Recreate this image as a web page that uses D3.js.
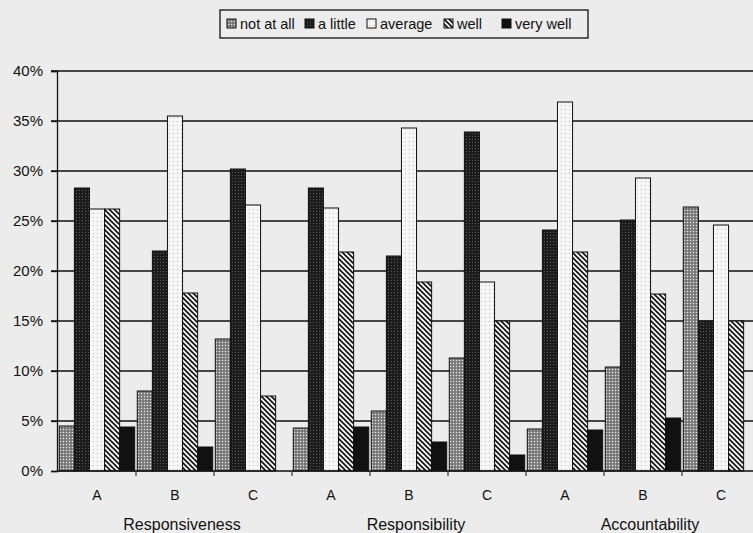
<!DOCTYPE html>
<html>
<head>
<meta charset="utf-8">
<script src="https://cdn.jsdelivr.net/npm/d3@7"></script>
<style>
  html, body { margin: 0; padding: 0; background: #ececec; }
  svg { display: block; font-family: "Liberation Sans", Arial, sans-serif; }
</style>
</head>
<body>
<svg id="chart" width="753" height="533"></svg>
<script>
// ---- data ----
const categories = ["Responsiveness", "Responsibility", "Accountability"];
const subgroups = ["A", "B", "C"];
const seriesNames = ["not at all", "a little", "average", "well", "very well"];
const notAtAll = [4.5, 8.0, 13.2, 4.3, 6.0, 11.3, 4.2, 10.4, 26.4];
const aLittle  = [28.3, 22.0, 30.2, 28.3, 21.5, 33.9, 24.1, 25.1, 15.0];
const average  = [26.2, 35.5, 26.6, 26.3, 34.3, 18.9, 36.9, 29.3, 24.6];
const well     = [26.2, 17.8, 7.5, 21.9, 18.9, 15.0, 21.9, 17.7, 15.0];
const veryWell = [4.4, 2.4, 0, 4.4, 2.9, 1.6, 4.1, 5.3, 0];
const yTicks = [0, 5, 10, 15, 20, 25, 30, 35, 40];

(function () {
const seriesValues = [notAtAll, aLittle, average, well, veryWell];
const groups = [];
categories.forEach(c => subgroups.forEach(s => groups.push(c + "|" + s)));

// ---- layout ----
const svg = d3.select("#chart");
const plotLeft = 57, plotTop = 71, plotBottom = 471, band = 78;
const plotRight = plotLeft + band * groups.length;

const x = d3.scaleBand().domain(groups).range([plotLeft + 1, plotRight + 1]).paddingInner(0).paddingOuter(0);
const inner = d3.scaleBand().domain(seriesNames).range([0, band]).paddingInner(0).paddingOuter(0.085);
const y = d3.scaleLinear().domain([0, 40]).range([plotBottom, plotTop]);

// ---- patterns ----
const defs = svg.append("defs");
const pNot = defs.append("pattern").attr("id", "p0").attr("patternUnits", "userSpaceOnUse").attr("width", 3).attr("height", 3);
pNot.append("rect").attr("width", 3).attr("height", 3).attr("fill", "#8c8c8c");
pNot.append("rect").attr("x", 0).attr("y", 0).attr("width", 1).attr("height", 1).attr("fill", "#e6e6e6");
pNot.append("rect").attr("x", 1.5).attr("y", 1.5).attr("width", 1).attr("height", 1).attr("fill", "#3a3a3a");

const pLit = defs.append("pattern").attr("id", "p1").attr("patternUnits", "userSpaceOnUse").attr("width", 3).attr("height", 3);
pLit.append("rect").attr("width", 3).attr("height", 3).attr("fill", "#1c1c1c");
pLit.append("rect").attr("x", 1).attr("y", 1).attr("width", 1).attr("height", 1).attr("fill", "#5a5a5a");

const pAvg = defs.append("pattern").attr("id", "p2").attr("patternUnits", "userSpaceOnUse").attr("width", 4).attr("height", 4);
pAvg.append("rect").attr("width", 4).attr("height", 4).attr("fill", "#f7f7f7");
pAvg.append("rect").attr("x", 1).attr("y", 1).attr("width", 1).attr("height", 1).attr("fill", "#b8b8b8");

const pWell = defs.append("pattern").attr("id", "p3").attr("patternUnits", "userSpaceOnUse").attr("width", 5).attr("height", 5);
pWell.append("rect").attr("width", 5).attr("height", 5).attr("fill", "#f4f4f4");
pWell.append("path").attr("d", "M-1,-1 L6,6 M-1,4 L1,6 M4,-1 L6,1").attr("stroke", "#111").attr("stroke-width", 1.6);

const fills = ["url(#p0)", "url(#p1)", "url(#p2)", "url(#p3)", "#111"];

// ---- gridlines ----
svg.append("g").selectAll("line").data(yTicks.filter(d => d > 0)).join("line")
  .attr("x1", plotLeft - 6).attr("x2", 753)
  .attr("y1", d => y(d)).attr("y2", d => y(d))
  .attr("stroke", "#111").attr("stroke-width", 1.3);

// ---- y axis ----
const yAxis = d3.axisLeft(y).tickValues(yTicks).tickFormat(d => d + "%").tickSize(6).tickPadding(8);
const gy = svg.append("g").attr("transform", `translate(${plotLeft},0)`).call(yAxis);
gy.select(".domain").attr("stroke", "#111").attr("stroke-width", 1.3);
gy.selectAll(".tick line").attr("stroke", "#111").attr("stroke-width", 1.3);
gy.selectAll(".tick text").attr("font-size", 15).attr("fill", "#111")
  .attr("font-family", "Liberation Sans, Arial, sans-serif");

// ---- bars ----
const gBars = svg.append("g");
seriesValues.forEach((vals, si) => {
  gBars.append("g").selectAll("rect").data(vals.map((v, i) => ({ g: groups[i], v })).filter(d => d.v > 0))
    .join("rect")
    .attr("x", d => x(d.g) + inner(seriesNames[si]))
    .attr("width", inner.bandwidth())
    .attr("y", d => y(d.v))
    .attr("height", d => plotBottom - y(d.v))
    .attr("fill", fills[si])
    .attr("stroke", "#111").attr("stroke-width", 1);
});

// ---- x axis ----
svg.append("line").attr("x1", plotLeft).attr("x2", 753).attr("y1", plotBottom).attr("y2", plotBottom)
  .attr("stroke", "#111").attr("stroke-width", 1.3);
svg.append("g").selectAll("line").data(groups.slice(1)).join("line")
  .attr("x1", d => x(d)).attr("x2", d => x(d))
  .attr("y1", plotBottom).attr("y2", plotBottom + 5)
  .attr("stroke", "#111");
svg.append("g").selectAll("text").data(groups).join("text")
  .attr("x", d => x(d) + band / 2).attr("y", 500)
  .attr("text-anchor", "middle").attr("font-size", 14).attr("fill", "#111")
  .text(d => d.split("|")[1]);
svg.append("g").selectAll("text").data(categories).join("text")
  .attr("x", c => x(c + "|B") + band / 2 + 7).attr("y", 530)
  .attr("text-anchor", "middle").attr("font-size", 16).attr("fill", "#111")
  .text(c => c);

// ---- legend ----
const legX = [227, 305, 367, 444, 502];
const lg = svg.append("g");
lg.append("rect").attr("x", 220).attr("y", 10).attr("width", 368).attr("height", 28)
  .attr("fill", "none").attr("stroke", "#111").attr("stroke-width", 1.3);
seriesNames.forEach((s, i) => {
  lg.append("rect").attr("x", legX[i]).attr("y", 19).attr("width", 9).attr("height", 9)
    .attr("fill", fills[i]).attr("stroke", "#111").attr("stroke-width", 1);
  lg.append("text").attr("x", legX[i] + 13).attr("y", 28.5)
    .attr("font-size", 14.5).attr("fill", "#111").text(s);
});
})();
</script>
</body>
</html>
